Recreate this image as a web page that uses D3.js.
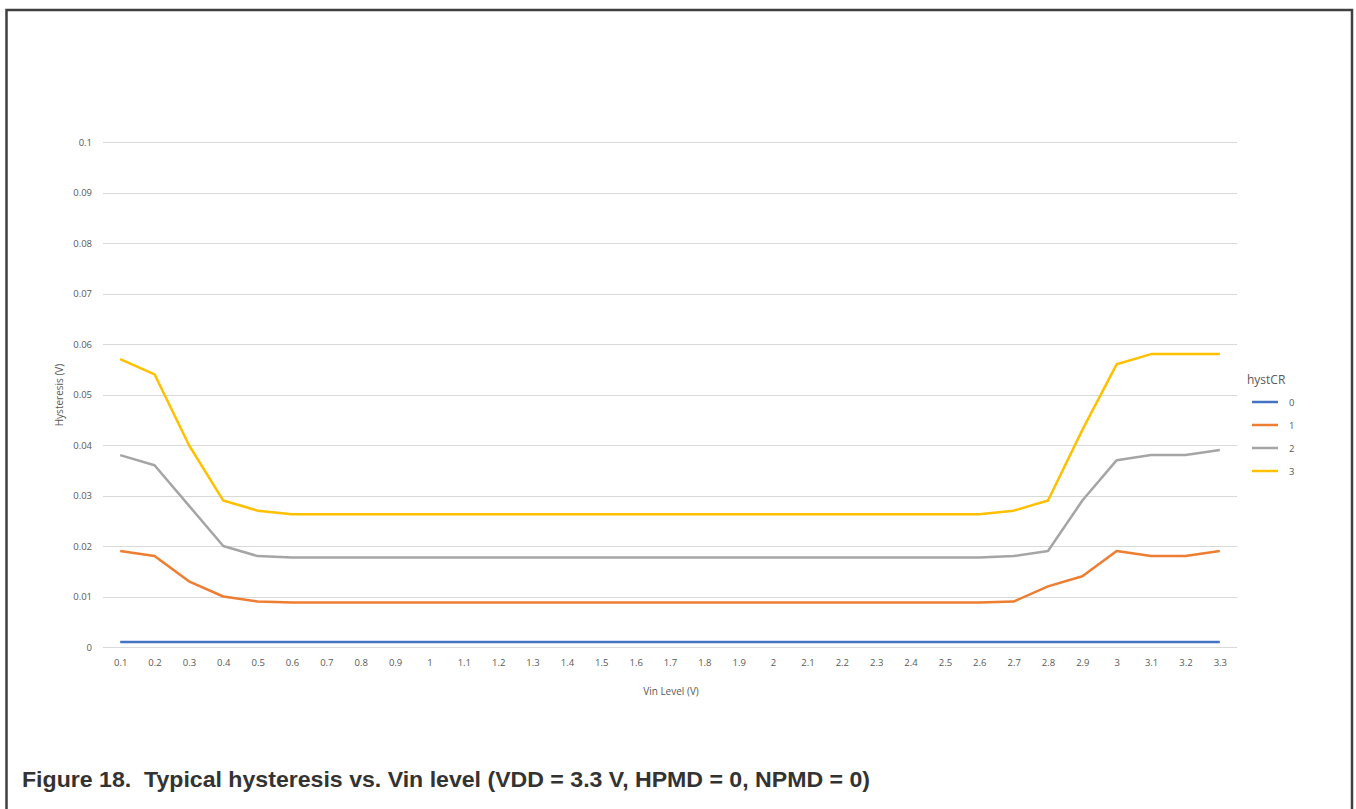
<!DOCTYPE html>
<html>
<head>
<meta charset="utf-8">
<script src="https://cdn.jsdelivr.net/npm/d3@7"></script>
<style>
  body { margin: 0; background: #fff; }
  svg { display: block; }
</style>
</head>
<body>
<svg id="chart"></svg>
<script>

// categories on x axis (Vin level)
var vin = ["0.1","0.2","0.3","0.4","0.5","0.6","0.7","0.8","0.9","1","1.1","1.2","1.3","1.4","1.5","1.6","1.7","1.8","1.9","2","2.1","2.2","2.3","2.4","2.5","2.6","2.7","2.8","2.9","3","3.1","3.2","3.3"];

// hysteresis values per hystCR setting
var hyst0 = [0.001,0.001,0.001,0.001,0.001,0.001,0.001,0.001,0.001,0.001,0.001,0.001,0.001,0.001,0.001,0.001,0.001,0.001,0.001,0.001,0.001,0.001,0.001,0.001,0.001,0.001,0.001,0.001,0.001,0.001,0.001,0.001,0.001];
var hyst1 = [0.019,0.018,0.013,0.010,0.009,0.0088,0.0088,0.0088,0.0088,0.0088,0.0088,0.0088,0.0088,0.0088,0.0088,0.0088,0.0088,0.0088,0.0088,0.0088,0.0088,0.0088,0.0088,0.0088,0.0088,0.0088,0.009,0.012,0.014,0.019,0.018,0.018,0.019];
var hyst2 = [0.038,0.036,0.028,0.020,0.018,0.0177,0.0177,0.0177,0.0177,0.0177,0.0177,0.0177,0.0177,0.0177,0.0177,0.0177,0.0177,0.0177,0.0177,0.0177,0.0177,0.0177,0.0177,0.0177,0.0177,0.0177,0.018,0.019,0.029,0.037,0.038,0.038,0.039];
var hyst3 = [0.057,0.054,0.040,0.029,0.027,0.0263,0.0263,0.0263,0.0263,0.0263,0.0263,0.0263,0.0263,0.0263,0.0263,0.0263,0.0263,0.0263,0.0263,0.0263,0.0263,0.0263,0.0263,0.0263,0.0263,0.0263,0.027,0.029,0.043,0.056,0.058,0.058,0.058];

var seriesNames = ["0", "1", "2", "3"];
var seriesColors = ["#4472C4", "#ED7D31", "#A5A5A5", "#FFC000"];
var yTicks = [0, 0.01, 0.02, 0.03, 0.04, 0.05, 0.06, 0.07, 0.08, 0.09, 0.1];

var series = [hyst0, hyst1, hyst2, hyst3].map(function(vals, i) {
  return { name: seriesNames[i], color: seriesColors[i], values: vals };
});

var config = { w: 1356, h: 809 };
var plot = { left: 103, right: 1237, top: 142, bottom: 647 };

var svg = d3.select("#chart")
  .attr("width", config.w)
  .attr("height", config.h);

// outer frame (bottom edge runs off the picture)
svg.append("path")
  .attr("d", "M6.5,815 L6.5,10 L1352,10 L1352,815")
  .attr("fill", "none")
  .attr("stroke", "#404040")
  .attr("stroke-width", 2.5);

var x = d3.scalePoint()
  .domain(vin)
  .range([plot.left, plot.right])
  .padding(0.5);

var y = d3.scaleLinear()
  .domain([0, 0.1])
  .range([plot.bottom, plot.top]);

var g = svg.append("g");

// horizontal gridlines
g.selectAll("line.grid")
  .data(yTicks)
  .enter()
  .append("line")
    .attr("class", "grid")
    .attr("x1", plot.left)
    .attr("x2", plot.right)
    .attr("y1", function(d) { return Math.round(y(d)) + 0.5; })
    .attr("y2", function(d) { return Math.round(y(d)) + 0.5; })
    .attr("stroke", "#d9d9d9")
    .attr("stroke-width", 1);

// y axis labels
var yAxis = d3.axisLeft(y)
  .tickValues(yTicks)
  .tickSize(0)
  .tickPadding(0)
  .tickFormat(function(d) { return d === 0 ? "0" : d3.format("")(+d.toFixed(2)); });

var yg = g.append("g")
  .attr("transform", "translate(92,0)")
  .call(yAxis);
yg.select(".domain").remove();
yg.selectAll("text")
  .attr("fill", "#595959")
  .style("font-family", "Open Sans, sans-serif")
  .style("font-size", "9.5px");

// x axis labels
var xAxis = d3.axisBottom(x)
  .tickSize(0)
  .tickPadding(0);

var xg = g.append("g")
  .attr("transform", "translate(0," + (plot.bottom + 12) + ")")
  .call(xAxis);
xg.select(".domain").remove();
xg.selectAll("text")
  .attr("fill", "#595959")
  .style("font-family", "Open Sans, sans-serif")
  .style("font-size", "9.5px");

// series lines
var line = d3.line()
  .x(function(d, i) { return x(vin[i]); })
  .y(function(d) { return y(d); });

g.selectAll("path.series")
  .data(series)
  .enter()
  .append("path")
    .attr("class", "series")
    .attr("d", function(d) { return line(d.values); })
    .attr("fill", "none")
    .attr("stroke", function(d) { return d.color; })
    .attr("stroke-width", 2.5)
    .attr("stroke-linejoin", "round");

// axis titles
svg.append("text")
  .attr("x", (plot.left + plot.right) / 2 + 1)
  .attr("y", 695)
  .attr("text-anchor", "middle")
  .attr("fill", "#595959")
  .style("font-family", "Open Sans, sans-serif")
  .style("font-size", "10px")
  .text("Vin Level (V)");

svg.append("text")
  .attr("transform", "translate(63,395) rotate(-90)")
  .attr("text-anchor", "middle")
  .attr("fill", "#595959")
  .style("font-family", "Open Sans, sans-serif")
  .style("font-size", "10px")
  .text("Hysteresis (V)");

// legend
var legend = svg.append("g").attr("transform", "translate(1247,0)");
legend.append("text")
  .attr("x", 0)
  .attr("y", 384)
  .attr("fill", "#595959")
  .style("font-family", "Open Sans, sans-serif")
  .style("font-size", "12px")
  .text("hystCR");

var items = legend.selectAll("g.item")
  .data(series)
  .enter()
  .append("g")
    .attr("class", "item")
    .attr("transform", function(d, i) { return "translate(0," + (402 + i * 23) + ")"; });

items.append("line")
  .attr("x1", 5)
  .attr("x2", 31)
  .attr("stroke", function(d) { return d.color; })
  .attr("stroke-width", 2.5);

items.append("text")
  .attr("x", 42)
  .attr("y", 3.5)
  .attr("fill", "#595959")
  .style("font-family", "Open Sans, sans-serif")
  .style("font-size", "9.5px")
  .text(function(d) { return d.name; });

// figure caption
svg.append("text")
  .attr("x", 22)
  .attr("y", 787)
  .attr("fill", "#333333")
  .attr("textLength", 848)
  .attr("lengthAdjust", "spacingAndGlyphs")
  .style("white-space", "pre")
  .style("font-family", "Liberation Sans, Arial, sans-serif")
  .style("font-size", "22px")
  .style("font-weight", "bold")
  .text("Figure 18.  Typical hysteresis vs. Vin level (VDD = 3.3 V, HPMD = 0, NPMD = 0)");

</script>
</body>
</html>
